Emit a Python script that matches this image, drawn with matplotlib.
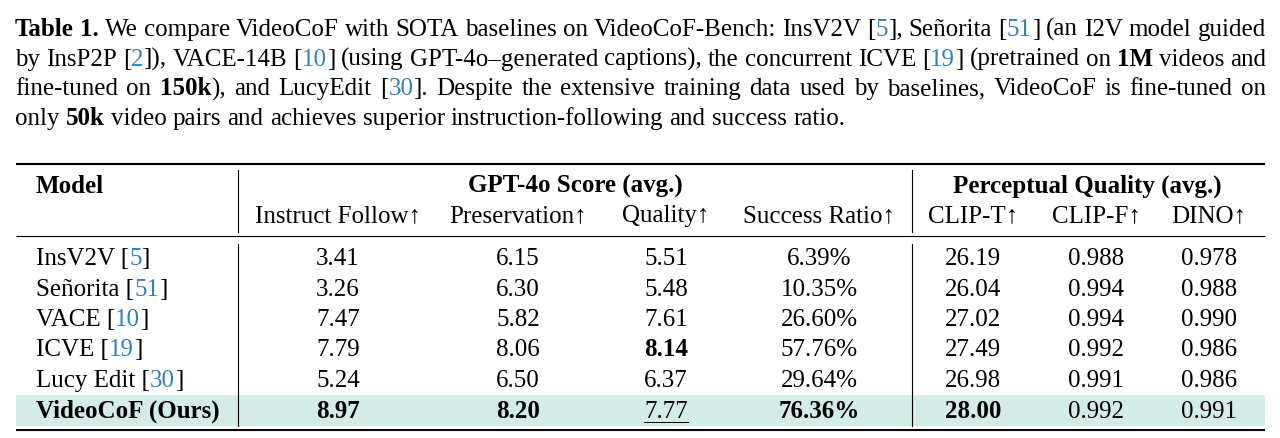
import re
import matplotlib
matplotlib.use("Agg")
import matplotlib.pyplot as plt
from matplotlib.patches import Rectangle

plt.rcParams['font.family'] = ['Liberation Serif', 'DejaVu Serif']
FS = 18
BLUE = '#3680bc'
HIGHLIGHT = '#d3ece7'

# caption: **bold**, {blue citation}
caption_lines = [
    "**Table 1.** We compare VideoCoF with SOTA baselines on VideoCoF-Bench: InsV2V [{5}], Señorita [{51}] (an I2V model guided",
    "by InsP2P [{2}]), VACE-14B [{10}] (using GPT-4o–generated captions), the concurrent ICVE [{19}] (pretrained on **1M** videos and",
    "fine-tuned on **150k**), and LucyEdit [{30}].  Despite the extensive training data used by baselines, VideoCoF is fine-tuned on",
    "only **50k** video pairs and achieves superior instruction-following and success ratio.",
]

group_headers = ["GPT-4o Score (avg.)", "Perceptual Quality (avg.)"]
col_headers = ["Instruct Follow↑", "Preservation↑", "Quality↑", "Success Ratio↑",
               "CLIP-T↑", "CLIP-F↑", "DINO↑"]

models = ["InsV2V", "Señorita", "VACE", "ICVE", "Lucy Edit", "VideoCoF (Ours)"]
refs = ["5", "51", "10", "19", "30", None]
instruct = [3.41, 3.26, 7.47, 7.79, 5.24, 8.97]
preservation = [6.15, 6.30, 5.82, 8.06, 6.50, 8.20]
quality = [5.51, 5.48, 7.61, 8.14, 6.37, 7.77]
success = [6.39, 10.35, 26.60, 57.76, 29.64, 76.36]
clip_t = [26.19, 26.04, 27.02, 27.49, 26.98, 28.00]
clip_f = [0.988, 0.994, 0.994, 0.992, 0.991, 0.992]
dino = [0.978, 0.988, 0.990, 0.986, 0.986, 0.991]

# (row, col) cells in bold / underlined
bold_cells = {(5, 0), (5, 1), (5, 3), (5, 4), (3, 2)}
underline_cells = {(5, 2)}

fig = plt.figure(figsize=(12.8, 4.38), dpi=100)
ax = fig.add_axes([0, 0, 1, 1])
ax.set_xlim(0, 1280)
ax.set_ylim(438, 0)
ax.axis('off')
renderer = fig.canvas.get_renderer()


def ink_width(s, wt):
    t = ax.text(0, 0, s, fontsize=FS, fontweight=wt)
    w = t.get_window_extent(renderer).width
    t.remove()
    return w


def advance(s, wt):
    # advance width, not ink box: bracket the string with bars
    return ink_width("|" + s + "|", wt) - ink_width("||", wt)


def parse(line):
    pieces = []
    for part in re.split(r'(\*\*.+?\*\*|\{.+?\})', line):
        if not part:
            continue
        if part.startswith('**'):
            pieces.append((part[2:-2], 'bold', 'black'))
        elif part.startswith('{'):
            pieces.append((part[1:-1], 'normal', BLUE))
        else:
            pieces.append((part, 'normal', 'black'))
    words = [[]]
    for text, wt, col in pieces:
        for i, c in enumerate(text.split(' ')):
            if i > 0:
                words.append([])
            if c:
                words[-1].append((c, wt, col))
    return [w for w in words if w]


def draw_pieces(x, y, pieces, ha='left'):
    widths = [advance(text, wt) for text, wt, col in pieces]
    if ha == 'center':
        x = x - sum(widths) / 2
    x0 = x
    for (text, wt, col), w in zip(pieces, widths):
        ax.text(x, y, text, fontsize=FS, fontweight=wt, color=col,
                va='baseline', ha='left')
        x += w
    return x0, x


# caption, justified
left, right = 15, 1266
space = advance(" ", 'normal')
for i, line in enumerate(caption_lines):
    y = 36 + i * 29.7
    words = parse(line)
    widths = [sum(advance(t, wt) for t, wt, c in word) for word in words]
    if i < len(caption_lines) - 1:
        gap = (right - left - sum(widths)) / (len(words) - 1)
    else:
        gap = space
    x = left
    for word, w in zip(words, widths):
        draw_pieces(x, y, word)
        x += w + gap

# table rules and highlight
x_l, x_r = 16, 1265
ax.add_patch(Rectangle((x_l, 395), x_r - x_l, 31, facecolor=HIGHLIGHT, edgecolor='none'))
ax.plot([x_l, x_r], [164, 164], color='black', lw=1.5, solid_capstyle='butt')
ax.plot([x_l, x_r], [236, 236], color='black', lw=0.8, solid_capstyle='butt')
ax.plot([x_l, x_r], [430, 430], color='black', lw=1.5, solid_capstyle='butt')
for vx in (238, 912):
    ax.plot([vx, vx], [170, 232], color='black', lw=0.8)
    ax.plot([vx, vx], [244, 426], color='black', lw=0.8)

col_x = [338, 518, 666, 819, 973, 1096, 1209]
model_x = 36

# headers
ax.text(model_x, 193, "Model", fontsize=FS, fontweight='bold', va='baseline')
ax.text(575, 193, group_headers[0], fontsize=FS, fontweight='bold', va='baseline', ha='center')
ax.text(1087, 193, group_headers[1], fontsize=FS, fontweight='bold', va='baseline', ha='center')
for cx, h in zip(col_x, col_headers):
    ax.text(cx, 222, h, fontsize=FS, va='baseline', ha='center')

# body
columns = [
    [f"{v:.2f}" for v in instruct],
    [f"{v:.2f}" for v in preservation],
    [f"{v:.2f}" for v in quality],
    [f"{v:.2f}%" for v in success],
    [f"{v:.2f}" for v in clip_t],
    [f"{v:.3f}" for v in clip_f],
    [f"{v:.3f}" for v in dino],
]
for r, name in enumerate(models):
    y = 265 + r * 30.5
    if refs[r] is None:
        draw_pieces(model_x, y, [(name, 'bold', 'black')])
    else:
        draw_pieces(model_x, y, [(name + " [", 'normal', 'black'),
                                 (refs[r], 'normal', BLUE),
                                 ("]", 'normal', 'black')])
    for c, cx in enumerate(col_x):
        wt = 'bold' if (r, c) in bold_cells else 'normal'
        x0, x1 = draw_pieces(cx, y, [(columns[c][r], wt, 'black')], ha='center')
        if (r, c) in underline_cells:
            ax.plot([x0, x1], [y + 4, y + 4], color='black', lw=0.7)

fig.savefig("out.png", dpi=100)
